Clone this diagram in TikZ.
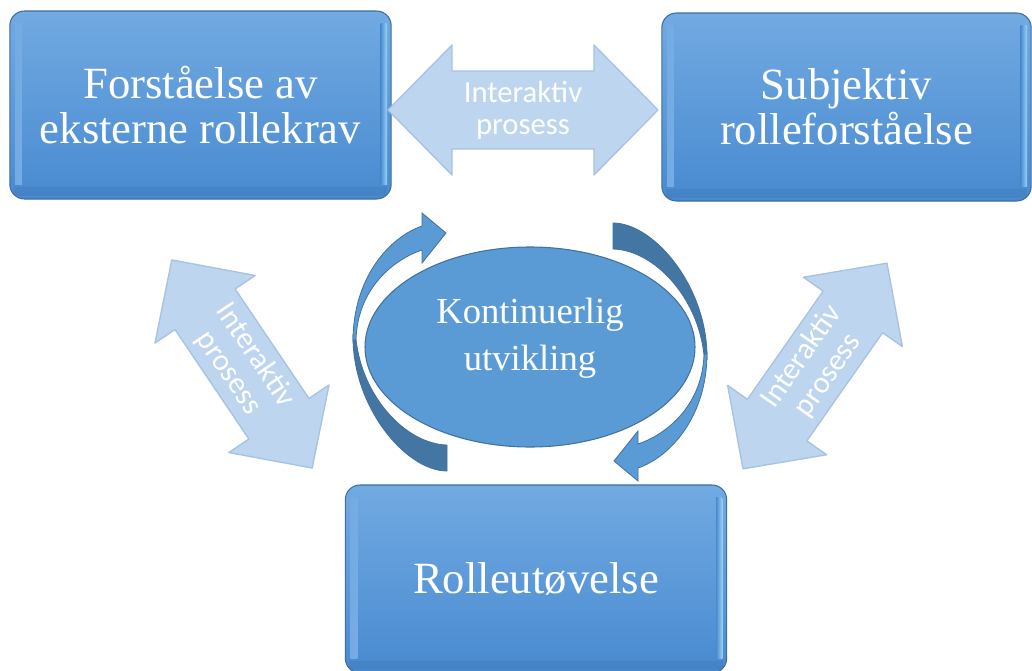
\documentclass[tikz,border=0pt]{standalone}
\usepackage{fontspec}
\setmainfont{Liberation Serif}
\newfontfamily\arrowfont{Carlito}

\definecolor{boxtop}{RGB}{114,170,226}
\definecolor{boxbottom}{RGB}{72,138,208}
\definecolor{boxline}{RGB}{62,110,160}
\definecolor{bevel}{RGB}{176,232,252}
\definecolor{cyclefill}{RGB}{91,155,213}
\definecolor{cycleline}{RGB}{65,113,156}
\definecolor{backfill}{RGB}{68,118,164}
\definecolor{twowayfill}{RGB}{189,213,238}
\definecolor{twowayline}{RGB}{166,195,228}

\usetikzlibrary{shapes.geometric}

\tikzset{
  rollebox/.style  = {shape=rectangle, rounded corners=11pt,
                      draw=boxline, line width=0.8pt,
                      top color=boxtop, bottom color=boxbottom,
                      minimum width=286pt, minimum height=141pt,
                      text=white, align=center,
                      font=\fontsize{33.5}{34}\selectfont,
                      path picture={
                        \fill[sharp corners, left color=boxtop, right color=bevel]
                          ([shift={(4pt,-9pt)}]path picture bounding box.north west)
                          rectangle ([shift={(9pt,11pt)}]path picture bounding box.south west);
                        \fill[sharp corners, left color=boxbottom, right color=bevel!70!boxtop]
                          ([shift={(-8pt,-9pt)}]path picture bounding box.north east)
                          rectangle ([shift={(-3pt,11pt)}]path picture bounding box.south east);
                        \fill[sharp corners, boxbottom!80!black, opacity=0.25]
                          ([shift={(3pt,9pt)}]path picture bounding box.south west)
                          rectangle ([shift={(-3pt,2pt)}]path picture bounding box.south east);
                      }},
  cyclenode/.style = {shape=ellipse, draw=cycleline, line width=0.8pt,
                      fill=cyclefill, inner sep=0pt,
                      minimum width=247.5pt, minimum height=150pt},
  cycletext/.style = {text=white, align=center,
                      font=\fontsize{27.5}{35}\selectfont},
  frontpart/.style = {fill=cyclefill, draw=cycleline, line width=0.6pt},
  backpart/.style  = {fill=backfill, draw=cycleline, line width=0.6pt},
  twowayarrow/.style = {fill=twowayfill, draw=twowayline, line width=1pt,
                        line join=round},
  twowaytext/.style  = {text=white, align=center, inner sep=1pt,
                        font=\arrowfont\fontsize{23}{24}\selectfont}
}

% curved arrow round the ellipse, turned by #1
\newcommand\turnarrow[1]{%
  \begin{scope}[shift={(530,347)}, rotate=#1]
    \filldraw[backpart] (-177,-12) .. controls (-178,60) and (-124,124) .. (-83,124)
      -- (-83,98) .. controls (-124,97) and (-168,50) .. (-174,-8) -- cycle;
    \filldraw[frontpart] (-177,-6) .. controls (-177,-70) and (-140,-110) .. (-108,-121)
      -- (-108,-134) -- (-84,-114) -- (-108,-84) -- (-108,-97)
      .. controls (-135,-88) and (-172,-60) .. (-174,-8) -- cycle;
  \end{scope}}

% double arrow: name, centre, angle, size
\newcommand\twoway[4]{%
  \begin{scope}[shift={#2}, rotate=#3]
    \filldraw[twowayarrow, scale=#4] (-135,0) -- (-71,-65) -- (-71,-39) -- (71,-39)
      -- (71,-65) -- (135,0) -- (71,65) -- (71,39) -- (-71,39) -- (-71,65) -- cycle;
    \node[twowaytext, rotate=#3] (#1) at (0,0) {Interaktiv\\prosess};
  \end{scope}}

\begin{document}
\begin{tikzpicture}[x=0.75pt, y=-0.75pt]
  \useasboundingbox (0,0) rectangle (1032,671);

  % role boxes
  \node[rollebox] (ekstern) at (200.5,105) {Forståelse av\\eksterne rollekrav};
  \node[rollebox, minimum width=277pt] (subjektiv) at (846.5,107) {Subjektiv\\rolleforståelse};
  \node[rollebox] (utovelse) at (536,579) {Rolleutøvelse};

  % interaction arrows
  \twoway{topp}{(523,110)}{0}{1}
  \twoway{venstre}{(242,364)}{-56}{0.93}
  \twoway{hoyre}{(815,366)}{55}{0.93}

  % continuous development
  \node[cyclenode] (utvikling) at (530,347) {};
  \node[cycletext] (utviklingtekst) at (530,338) {Kontinuerlig\\utvikling};
  \turnarrow{0}
  \turnarrow{180}
\end{tikzpicture}
\end{document}
